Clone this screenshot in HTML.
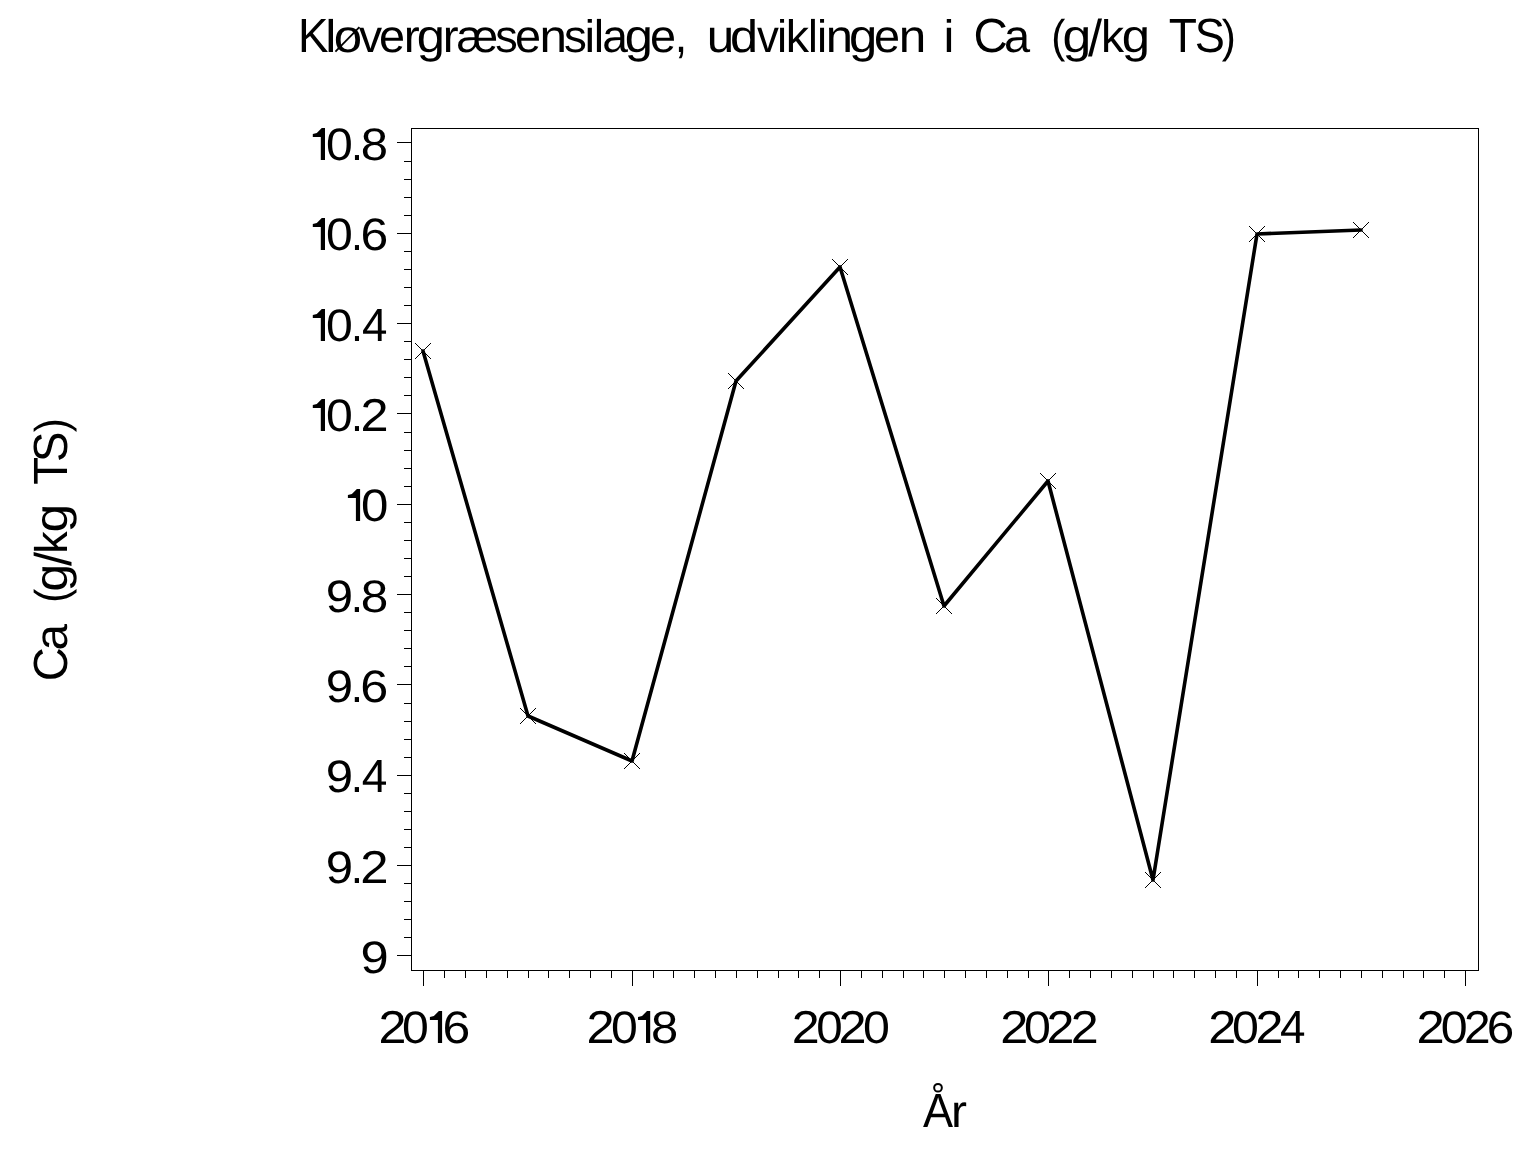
<!DOCTYPE html><html><head><meta charset="utf-8"><title>Kløvergræsensilage, udviklingen i Ca (g/kg TS)</title>
<style>html,body{margin:0;padding:0;background:#fff;overflow:hidden}svg{display:block;will-change:transform}text{font-family:"Liberation Sans",sans-serif;text-rendering:geometricPrecision}</style></head><body>
<svg width="1536" height="1152" viewBox="0 0 1536 1152">
<rect x="0" y="0" width="1536" height="1152" fill="#fff"/>
<g stroke="#000" stroke-width="1" fill="none" shape-rendering="crispEdges">
<rect x="411.5" y="128.5" width="1067" height="842"/>
<path d="M397 142.5H412M404 161.5H412M404 179.5H412M404 197.5H412M404 215.5H412M397 233.5H412M404 251.5H412M404 269.5H412M404 287.5H412M404 305.5H412M397 323.5H412M404 341.5H412M404 359.5H412M404 377.5H412M404 395.5H412M397 413.5H412M404 432.5H412M404 450.5H412M404 468.5H412M404 486.5H412M397 504.5H412M404 522.5H412M404 540.5H412M404 558.5H412M404 576.5H412M397 594.5H412M404 612.5H412M404 630.5H412M404 648.5H412M404 666.5H412M397 684.5H412M404 703.5H412M404 721.5H412M404 739.5H412M404 757.5H412M397 775.5H412M404 793.5H412M404 811.5H412M404 829.5H412M404 847.5H412M397 865.5H412M404 883.5H412M404 901.5H412M404 919.5H412M404 937.5H412M397 955.5H412M423.5 970V986M444.5 970V978M465.5 970V978M486.5 970V978M507.5 970V978M528.5 970V978M548.5 970V978M569.5 970V978M590.5 970V978M611.5 970V978M632.5 970V986M653.5 970V978M673.5 970V978M694.5 970V978M715.5 970V978M736.5 970V978M757.5 970V978M778.5 970V978M798.5 970V978M819.5 970V978M840.5 970V986M861.5 970V978M882.5 970V978M903.5 970V978M923.5 970V978M944.5 970V978M965.5 970V978M986.5 970V978M1007.5 970V978M1028.5 970V978M1048.5 970V986M1069.5 970V978M1090.5 970V978M1111.5 970V978M1132.5 970V978M1153.5 970V978M1173.5 970V978M1194.5 970V978M1215.5 970V978M1236.5 970V978M1257.5 970V986M1278.5 970V978M1298.5 970V978M1319.5 970V978M1340.5 970V978M1361.5 970V978M1382.5 970V978M1403.5 970V978M1423.5 970V978M1444.5 970V978M1465.5 970V986"/>
</g>
<polyline fill="none" stroke="#000" stroke-width="3.6" stroke-linejoin="round" stroke-linecap="round" points="423,351 528,716 632,761 736,381 840,267 944,606 1048,481 1153,880 1257,234 1361,230"/>
<path fill="none" stroke="#000" stroke-width="1" shape-rendering="crispEdges" d="M415.0 343.0L431.0 359.0M415.0 359.0L431.0 343.0M520.0 708.0L536.0 724.0M520.0 724.0L536.0 708.0M624.0 753.0L640.0 769.0M624.0 769.0L640.0 753.0M728.0 373.0L744.0 389.0M728.0 389.0L744.0 373.0M832.0 259.0L848.0 275.0M832.0 275.0L848.0 259.0M936.0 598.0L952.0 614.0M936.0 614.0L952.0 598.0M1040.0 473.0L1056.0 489.0M1040.0 489.0L1056.0 473.0M1145.0 872.0L1161.0 888.0M1145.0 888.0L1161.0 872.0M1249.0 226.0L1265.0 242.0M1249.0 242.0L1265.0 226.0M1353.0 222.0L1369.0 238.0M1353.0 238.0L1369.0 222.0"/>
<g fill="#000">
<g font-size="48">
<text transform="translate(298.05 52.00) scale(0.9514 1.0000)">K</text>
<text transform="translate(325.23 52.00) scale(1.0430 0.9517)">l</text>
<text transform="translate(333.76 52.00) scale(1.0634 0.9550)">o</text>
<text transform="translate(358.94 52.00) scale(0.9632 0.9550)">v</text>
<text transform="translate(379.11 52.00) scale(0.9768 0.9550)">e</text>
<text transform="translate(403.71 52.00) scale(1.0000 0.9550)">r</text>
<text transform="translate(416.87 52.12) scale(1.0562 0.9715)">g</text>
<text transform="translate(442.84 52.00) scale(0.9917 0.9550)">r</text>
<text transform="translate(456.39 52.00) scale(0.9769 0.9550)">æ</text>
<text transform="translate(495.15 52.00) scale(0.9365 0.9550)">s</text>
<text transform="translate(515.11 52.00) scale(0.9768 0.9550)">e</text>
<text transform="translate(539.62 52.00) scale(1.0299 0.9550)">n</text>
<text transform="translate(563.93 52.00) scale(0.9508 0.9550)">s</text>
<text transform="translate(584.60 52.00) scale(0.9956 0.9517)">i</text>
<text transform="translate(593.76 52.00) scale(0.9719 0.9517)">l</text>
<text transform="translate(602.14 52.00) scale(0.9612 0.9550)">a</text>
<text transform="translate(624.87 52.12) scale(1.0562 0.9715)">g</text>
<text transform="translate(649.91 52.00) scale(0.9768 0.9550)">e</text>
<text transform="translate(674.77 52.00) scale(0.9340 1.0000)">,</text>
<text transform="translate(706.69 52.00) scale(1.0299 0.9550)">u</text>
<text transform="translate(730.08 52.00) scale(1.0516 0.9517)">d</text>
<text transform="translate(757.05 52.00) scale(0.9125 0.9550)">v</text>
<text transform="translate(776.96 52.00) scale(0.9481 0.9517)">i</text>
<text transform="translate(785.76 52.00) scale(0.9695 0.9517)">k</text>
<text transform="translate(808.11 52.00) scale(0.9244 0.9517)">l</text>
<text transform="translate(817.06 52.00) scale(0.9481 0.9517)">i</text>
<text transform="translate(825.85 52.00) scale(1.0201 0.9550)">n</text>
<text transform="translate(848.96 52.12) scale(1.0609 0.9715)">g</text>
<text transform="translate(874.01 52.00) scale(0.9768 0.9550)">e</text>
<text transform="translate(898.72 52.00) scale(1.0299 0.9550)">n</text>
<text transform="translate(943.53 52.00) scale(1.0193 0.9517)">i</text>
<text transform="translate(973.49 52.00) scale(0.9902 1.0000)">C</text>
<text transform="translate(1004.01 52.00) scale(0.9774 0.9550)">a</text>
<text transform="translate(1051.18 52.27) scale(0.8800 0.9593)">(</text>
<text transform="translate(1062.62 52.12) scale(1.0794 0.9715)">g</text>
<text transform="translate(1088.10 56.30) scale(1.0498 1.0752)">/</text>
<text transform="translate(1100.90 52.00) scale(0.9599 0.9517)">k</text>
<text transform="translate(1121.86 52.12) scale(1.0609 0.9715)">g</text>
<text transform="translate(1168.76 52.00) scale(0.9617 1.0000)">T</text>
<text transform="translate(1194.85 52.00) scale(0.9409 1.0000)">S</text>
<text transform="translate(1221.65 52.27) scale(0.8800 0.9593)">)</text>
<path d="M335.4 51.6L359.4 27.1" stroke="#000" stroke-width="1.8" fill="none"/>
<text transform="translate(922.91 1127.00) scale(0.9394 1.0000)">A</text>
<circle cx="938.0" cy="1087.75" r="3.85" fill="none" stroke="#000" stroke-width="2"/>
<text transform="translate(950.91 1127.00) scale(1.0000 0.9550)">r</text>
</g>
<g font-size="48" transform="translate(67 0) rotate(-90)">
<text transform="translate(-681.19 0.00) scale(0.9803 1.0000)">C</text>
<text transform="translate(-650.53 0.00) scale(0.9937 0.9550)">a</text>
<text transform="translate(-602.70 0.27) scale(0.8722 0.9593)">(</text>
<text transform="translate(-591.59 0.12) scale(1.0377 0.9715)">g</text>
<text transform="translate(-566.00 4.30) scale(1.0573 1.0752)">/</text>
<text transform="translate(-553.83 0.00) scale(0.9359 0.9517)">k</text>
<text transform="translate(-532.38 0.12) scale(1.0794 0.9715)">g</text>
<text transform="translate(-484.82 0.00) scale(0.9506 1.0000)">T</text>
<text transform="translate(-462.07 0.00) scale(0.9481 1.0000)">S</text>
<text transform="translate(-432.35 0.27) scale(0.8800 0.9593)">)</text>
</g>
<g font-size="46.5">
<path d="M321.80 128.00 L325.00 128.00 L325.00 160.00 L320.80 160.00 L320.80 137.00 L312.80 137.00 L312.80 134.00 L316.80 133.00 Z"/>
<text transform="translate(326.12 159.66) scale(1.0347 0.9781)">0</text>
<text transform="translate(350.97 160.00) scale(0.9260 1.0000)">.</text>
<text transform="translate(360.87 159.66) scale(1.0541 0.9781)">8</text>
<path d="M321.80 218.00 L325.00 218.00 L325.00 250.00 L320.80 250.00 L320.80 227.00 L312.80 227.00 L312.80 224.00 L316.80 223.00 Z"/>
<text transform="translate(326.12 249.66) scale(1.0347 0.9781)">0</text>
<text transform="translate(350.97 250.00) scale(0.9260 1.0000)">.</text>
<text transform="translate(360.47 249.66) scale(1.0719 0.9781)">6</text>
<path d="M321.80 309.00 L325.00 309.00 L325.00 341.00 L320.80 341.00 L320.80 318.00 L312.80 318.00 L312.80 315.00 L316.80 314.00 Z"/>
<text transform="translate(326.12 340.66) scale(1.0347 0.9781)">0</text>
<text transform="translate(350.97 341.00) scale(0.9260 1.0000)">.</text>
<text transform="translate(361.95 341.00) scale(0.9816 1.0000)">4</text>
<path d="M321.80 399.00 L325.00 399.00 L325.00 431.00 L320.80 431.00 L320.80 408.00 L312.80 408.00 L312.80 405.00 L316.80 404.00 Z"/>
<text transform="translate(326.12 430.66) scale(1.0347 0.9781)">0</text>
<text transform="translate(350.97 431.00) scale(0.9260 1.0000)">.</text>
<text transform="translate(360.46 431.10) scale(1.0857 0.9917)">2</text>
<path d="M356.90 489.00 L360.10 489.00 L360.10 521.00 L355.90 521.00 L355.90 498.00 L347.90 498.00 L347.90 495.00 L351.90 494.00 Z"/>
<text transform="translate(360.88 520.66) scale(1.0572 0.9781)">0</text>
<text transform="translate(325.70 611.66) scale(1.0568 0.9781)">9</text>
<text transform="translate(350.87 612.00) scale(0.9486 1.0000)">.</text>
<text transform="translate(360.65 611.66) scale(1.0633 0.9781)">8</text>
<text transform="translate(325.70 701.66) scale(1.0568 0.9781)">9</text>
<text transform="translate(350.87 702.00) scale(0.9486 1.0000)">.</text>
<text transform="translate(360.25 701.66) scale(1.0813 0.9781)">6</text>
<text transform="translate(325.70 791.66) scale(1.0568 0.9781)">9</text>
<text transform="translate(350.87 792.00) scale(0.9486 1.0000)">.</text>
<text transform="translate(361.74 792.00) scale(0.9901 1.0000)">4</text>
<text transform="translate(325.70 882.66) scale(1.0568 0.9781)">9</text>
<text transform="translate(350.87 883.00) scale(0.9486 1.0000)">.</text>
<text transform="translate(360.24 883.10) scale(1.0952 0.9917)">2</text>
<text transform="translate(360.43 972.66) scale(1.0894 0.9781)">9</text>
<text transform="translate(378.57 1043.10) scale(1.0810 0.9917)">2</text>
<text transform="translate(402.12 1042.66) scale(1.0347 0.9781)">0</text>
<path d="M438.90 1011.00 L442.10 1011.00 L442.10 1043.00 L437.90 1043.00 L437.90 1020.00 L429.90 1020.00 L429.90 1017.00 L433.90 1016.00 Z"/>
<text transform="translate(442.47 1042.66) scale(1.0719 0.9781)">6</text>
<text transform="translate(586.46 1043.10) scale(1.0857 0.9917)">2</text>
<text transform="translate(611.02 1042.66) scale(1.0347 0.9781)">0</text>
<path d="M647.00 1011.00 L650.20 1011.00 L650.20 1043.00 L646.00 1043.00 L646.00 1020.00 L638.00 1020.00 L638.00 1017.00 L642.00 1016.00 Z"/>
<text transform="translate(650.98 1042.66) scale(1.0495 0.9781)">8</text>
<text transform="translate(791.67 1043.10) scale(1.0810 0.9917)">2</text>
<text transform="translate(816.15 1042.66) scale(1.0212 0.9781)">0</text>
<text transform="translate(838.56 1043.10) scale(1.0857 0.9917)">2</text>
<text transform="translate(863.01 1042.66) scale(1.0392 0.9781)">0</text>
<text transform="translate(1000.36 1043.10) scale(1.0857 0.9917)">2</text>
<text transform="translate(1024.01 1042.66) scale(1.0392 0.9781)">0</text>
<text transform="translate(1046.47 1043.10) scale(1.0810 0.9917)">2</text>
<text transform="translate(1070.67 1043.10) scale(1.0810 0.9917)">2</text>
<text transform="translate(1208.36 1043.10) scale(1.0857 0.9917)">2</text>
<text transform="translate(1232.01 1042.66) scale(1.0392 0.9781)">0</text>
<text transform="translate(1255.57 1043.10) scale(1.0810 0.9917)">2</text>
<text transform="translate(1279.95 1043.00) scale(0.9858 1.0000)">4</text>
<text transform="translate(1416.55 1043.10) scale(1.0905 0.9917)">2</text>
<text transform="translate(1440.81 1042.66) scale(1.0392 0.9781)">0</text>
<text transform="translate(1464.09 1043.10) scale(1.0291 0.9917)">2</text>
<text transform="translate(1486.79 1042.66) scale(1.0626 0.9781)">6</text>
</g>
</g>
</svg></body></html>
